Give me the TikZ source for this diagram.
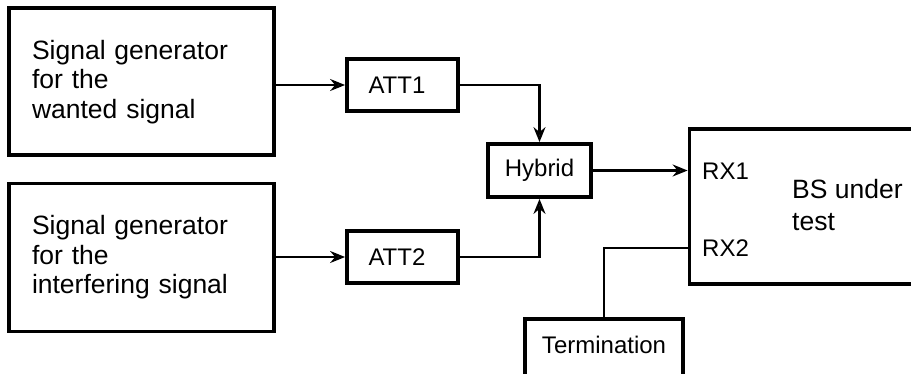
\documentclass[tikz,border=0pt]{standalone}
\usepackage{fontspec}
\setmainfont{Liberation Sans}
\usetikzlibrary{arrows.meta}
\begin{document}
\begin{tikzpicture}[x=1pt,y=-1pt,
  bigbox/.style={draw, line width=3.8pt, rectangle, inner xsep=23pt, inner ysep=0pt,
    text width=219pt, align=left, minimum height=147pt,
    font=\fontsize{26.5}{29.5}\selectfont},
  attbox/.style={draw, line width=3.8pt, rectangle, inner xsep=21.5pt, inner ysep=0pt,
    text width=68pt, align=left, minimum height=52pt,
    font=\fontsize{24}{28}\selectfont},
  smallbox/.style={draw, line width=3.8pt, rectangle, inner sep=0pt,
    font=\fontsize{24}{28}\selectfont},
  lbl/.style={inner sep=0pt, font=\fontsize{24}{28}\selectfont},
  conn/.style={line width=2.1pt},
  arr/.style={conn, -{Stealth[length=15pt,width=12pt,inset=5pt,fill=black!75]}}
]
\useasboundingbox (0,0) rectangle (911,373);
\clip (0,0) rectangle (911,373);

\node[bigbox] (sg1) at (141.5,81.7) {Signal generator\\for the\\wanted signal};
\node[bigbox, minimum height=148pt] (sg2) at (141.5,257.4) {Signal generator\\for the\\interfering signal};

\node[attbox] (att1) at (402.5,85) {ATT1};
\node[attbox] (att2) at (402.5,257) {ATT2};

\node[smallbox, minimum width=103pt, minimum height=53pt] (hyb) at (539.5,170.5) {Hybrid};

\node[draw, line width=3.8pt, rectangle, minimum width=236pt, minimum height=155pt] (bs) at (807.5,206.2) {};

\node[lbl, anchor=base west] (rx1) at (702,179) {RX1};
\node[lbl, anchor=base west] (rx2) at (702,256.7) {RX2};
\node[inner sep=0pt, anchor=base west, align=left,
  font=\fontsize{26.5}{32}\selectfont] (bslbl) at (792,230.5) {BS under\\test};

\node[smallbox, minimum width=158pt, text height=35pt, text depth=40pt, anchor=north] (term) at (604,316.7) {Termination};

\draw[arr] (sg1.east |- att1) -- (att1.west);
\draw[arr] (sg2.east |- att2) -- (att2.west);
\draw[arr] (att1.east) -| (hyb.north);
\draw[arr] (att2.east) -| (hyb.south);
\draw[arr] (hyb.east) -- (hyb.east -| bs.west);
\draw[conn] (bs.west |- rx2) -| (term.north);
\end{tikzpicture}
\end{document}
